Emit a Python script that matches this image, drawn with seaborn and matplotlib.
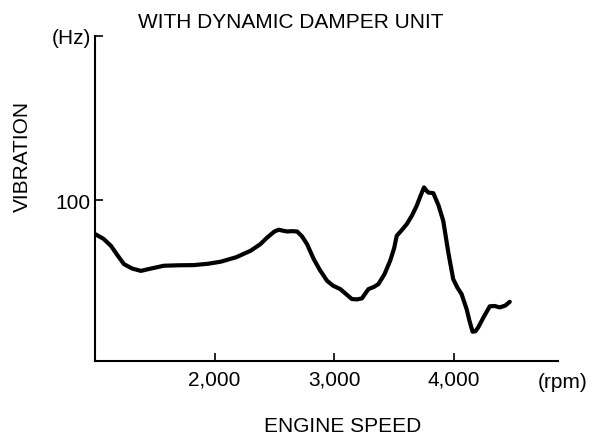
import numpy as np
import pandas as pd
import seaborn as sns
import matplotlib.pyplot as plt

sns.set_style('white')
plt.rcParams['font.family'] = ['Liberation Sans', 'DejaVu Sans']
plt.rcParams['text.color'] = 'black'

# engine speed (rpm) and vibration (Hz)
rpm = [1000, 1070, 1133, 1190, 1242, 1310, 1383, 1470, 1575, 1700, 1825, 1940,
       2050, 2180, 2300, 2380, 2440, 2500, 2536, 2570, 2606, 2650, 2689, 2730,
       2772, 2828, 2880, 2939, 2990, 3050, 3100, 3147, 3190, 3231, 3260, 3286,
       3330, 3369, 3420, 3467, 3500, 3522, 3560, 3606, 3650, 3689, 3720, 3750,
       3770, 3786, 3828, 3870, 3911, 3953, 3994, 4030, 4064, 4106, 4130, 4156,
       4180, 4203, 4250, 4300, 4340, 4383, 4430, 4467]
vib = [78.9, 76.0, 71.6, 65.5, 60.2, 57.5, 56.0, 57.5, 59.2, 59.5, 59.6, 60.4,
       61.7, 64.5, 68.5, 72.5, 76.8, 80.5, 81.6, 81.0, 80.5, 80.7, 80.5, 77.5,
       72.7, 63.4, 56.5, 49.9, 46.8, 44.7, 41.5, 38.5, 38.3, 38.9, 42.0, 44.7,
       46.0, 47.8, 54.0, 62.3, 70.0, 77.8, 81.0, 85.1, 90.5, 96.5, 102.5, 107.9,
       106.0, 104.7, 104.3, 97.0, 87.1, 67.5, 50.9, 45.5, 41.6, 32.3, 25.0, 18.2,
       18.5, 20.9, 27.5, 34.0, 34.2, 33.3, 34.5, 36.8]

x_ticks = [2000, 3000, 4000]
x_labels = ['2,000', '3,000', '4,000']
y_ticks = [100, 202]
y_labels = ['100', '(Hz)']

df = pd.DataFrame({'rpm': rpm, 'vib': vib})

fs = 15
fig = plt.figure(figsize=(6.04, 4.39), dpi=100)
ax = fig.add_axes([95 / 604, 77 / 439, 463 / 604, 325 / 439])
sns.lineplot(data=df, x='rpm', y='vib', ax=ax, color='black', linewidth=3.0,
             solid_capstyle='round', solid_joinstyle='round')

ax.set_xlim(1000, 4870)
ax.set_ylim(0, 202)
ax.set_xticks(x_ticks)
ax.set_xticklabels(x_labels)
ax.set_yticks(y_ticks)
ax.set_yticklabels(y_labels)
ax.tick_params(bottom=True, left=True, direction='in', length=6, width=1.2,
               labelsize=fs, colors='black', pad=6)
ax.tick_params(axis='y', pad=3)
ax.set_xlabel('')
ax.set_ylabel('')
sns.despine(ax=ax)
for s in ['left', 'bottom']:
    ax.spines[s].set_linewidth(1.5)
    ax.spines[s].set_color('black')

fig.text(291 / 604, 1 - 22 / 439, 'WITH DYNAMIC DAMPER UNIT', ha='center', va='center', fontsize=fs)
fig.text(563 / 604, 1 - 383 / 439, '(rpm)', ha='center', va='center', fontsize=fs)
fig.text(343 / 604, 1 - 427 / 439, 'ENGINE SPEED', ha='center', va='center', fontsize=fs)
fig.text(22 / 604, 1 - 156 / 439, 'VIBRATION', ha='center', va='center', rotation=90, fontsize=fs)

fig.savefig('out.png', dpi=100)
